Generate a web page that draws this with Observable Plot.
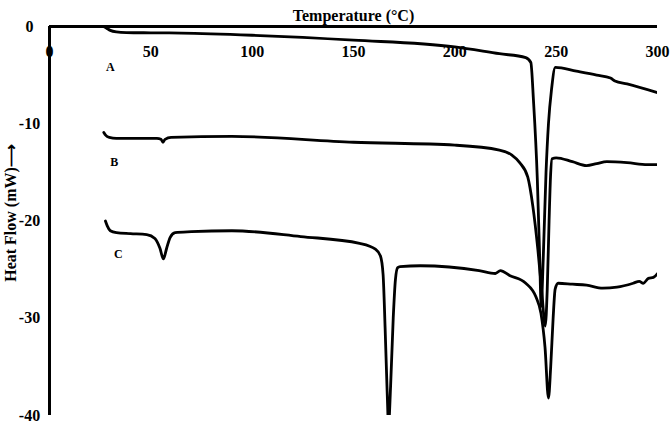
<!DOCTYPE html>
<html><head><meta charset="utf-8">
<script src="https://cdn.jsdelivr.net/npm/d3@7"></script>
<script src="https://cdn.jsdelivr.net/npm/@observablehq/plot@0.6"></script>
<style>body{margin:0;background:#fff}</style>
</head><body><div id="chart"></div>
<script>
// Temperature (°C), Heat Flow (mW)
const curveA = [[26.6,0],[28,-0.15],[30,-0.4],[33,-0.55],[38,-0.62],[50,-0.65],[65,-0.68],[100,-0.9],[150,-1.4],[200,-2.1],[222,-2.8],[235,-3.2],[237.5,-3.7],[238.8,-7.6],[240.7,-15.7],[241.9,-24],[242.6,-28.8],[243.6,-24],[245,-15],[246.2,-10],[247.7,-6.5],[249.6,-4.2],[260,-4.6],[270,-5.0],[276.8,-5.3],[279,-5.6],[285,-5.9],[300,-6.8]];
const curveB = [[26.8,-10.9],[27.8,-11.2],[29.5,-11.4],[33,-11.5],[45,-11.5],[53,-11.5],[55,-11.6],[56,-11.9],[57,-11.6],[60,-11.4],[90,-11.3],[150,-11.9],[200,-12.2],[222,-12.7],[228,-13.2],[232,-14.0],[236,-15.5],[238.5,-18.5],[241,-23],[243,-27.5],[244.6,-30.8],[245.6,-27],[246.5,-20],[247.2,-15.5],[248,-13.6],[250,-13.5],[258,-13.9],[265,-14.3],[270,-14.1],[275,-13.9],[285,-14.0],[295,-14.2],[300,-14.2]];
const curveC = [[27.6,-20.0],[28.5,-20.5],[30,-21.0],[33,-21.2],[40,-21.3],[48,-21.4],[52,-21.8],[54.5,-22.8],[56.2,-23.9],[57.8,-22.8],[59.5,-21.7],[62,-21.2],[70,-21.1],[90,-21.0],[124,-21.6],[153,-22.3],[160.8,-22.9],[163.3,-23.6],[164.6,-25.5],[165.6,-31],[166.6,-37.5],[167.3,-41],[168.3,-37],[169.6,-30],[170.7,-26],[171.8,-24.8],[173,-24.7],[183,-24.6],[212,-25.1],[220,-25.4],[222.5,-25.1],[227,-25.6],[235,-26.4],[240,-27.8],[242.5,-29.5],[244.5,-33],[246.2,-38.2],[247.3,-35],[248.5,-30],[249.5,-27],[251,-26.4],[258,-26.5],[265,-26.6],[273,-26.9],[280,-26.8],[288,-26.4],[291,-26.2],[293,-26.4],[295.5,-25.9],[298,-25.8],[300,-25.4]];
const seriesNames = ["A","B","C"];
const xTicks = [0,50,100,150,200,250,300];
const yTicks = [0,-10,-20,-30,-40];
const seriesLabels = [{name:"A",t:30,h:-4.2},{name:"B",t:32,h:-14.0},{name:"C",t:34,h:-23.4}];

const rows = [curveA, curveB, curveC].flatMap((c, i) => c.map(([t, h]) => ({s: seriesNames[i], t, h})));
const font = "'Liberation Serif','Times New Roman',serif";

const chart = Plot.plot({
  width: 671, height: 424,
  marginLeft: 49, marginRight: 14, marginTop: 26, marginBottom: 9,
  x: {domain: [0, 300], axis: null},
  y: {domain: [-40, 0], axis: null},
  style: {fontFamily: font, fontWeight: "bold", background: "#fff", color: "#000"},
  marks: [
    Plot.text(xTicks, {x: d => d, frameAnchor: "top", dy: 19, text: d => String(d), fontSize: 16, fontWeight: "bold"}),
    Plot.text(yTicks, {y: d => d, frameAnchor: "left", dx: -20, textAnchor: "middle", text: d => String(d), fontSize: 16, fontWeight: "bold"}),
    Plot.text(["Temperature (°C)"], {frameAnchor: "top", dy: -17, fontSize: 16, fontWeight: "bold"}),
    Plot.text(["Heat Flow (mW)⟶"], {frameAnchor: "left", dx: -39, dy: -8, rotate: -90, textAnchor: "middle", fontSize: 16, fontWeight: "bold"}),
    Plot.text(seriesLabels, {x: "t", y: "h", text: "name", fontSize: 12, fontWeight: "bold"}),
    Plot.line(rows, {x: "t", y: "h", z: "s", stroke: "#000", strokeWidth: 2.8, curve: "monotone-x", clip: true}),
    Plot.ruleX([0], {stroke: "#000", strokeWidth: 3}),
    Plot.ruleY([0], {stroke: "#000", strokeWidth: 3})
  ]
});
document.getElementById("chart").appendChild(chart);
</script>
</body></html>
